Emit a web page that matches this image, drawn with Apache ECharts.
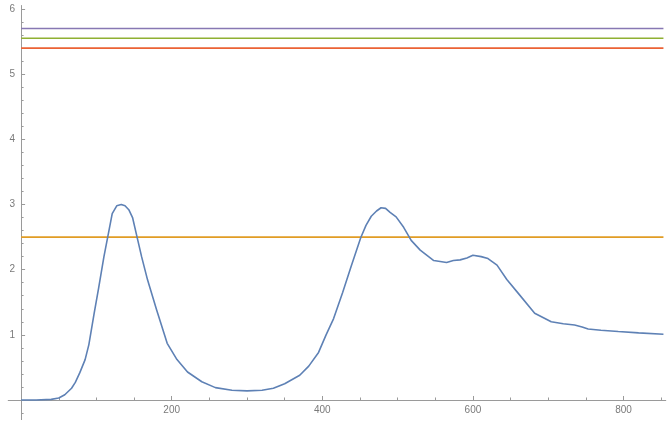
<!DOCTYPE html>
<html>
<head>
<meta charset="utf-8">
<script src="https://cdn.jsdelivr.net/npm/echarts@6/dist/echarts.min.js"></script>
<style>
html,body{margin:0;padding:0;background:#fff;}
#chart{width:668px;height:424px;}
</style>
</head>
<body>
<div id="chart"></div>
<script>
// ---- data ----
var curveX = [0, 20, 40, 50, 58, 67, 72, 78, 85, 90, 97, 103, 110, 115, 121, 127, 133, 138, 143, 148, 154, 160, 168, 180, 194, 207, 221, 240, 258, 280, 300, 320, 335, 350, 370, 382, 395, 405, 415, 427, 438, 451, 458, 465, 472, 478, 484, 490, 498, 508, 518, 530, 548, 565, 574, 583, 592, 600, 611, 620, 632, 645, 660, 682, 704, 720, 735, 745, 753, 770, 793, 820, 853];
var curveY = [0, 0, 0.01, 0.03, 0.08, 0.18, 0.27, 0.42, 0.62, 0.85, 1.33, 1.72, 2.2, 2.5, 2.86, 2.98, 3.0, 2.98, 2.92, 2.8, 2.5, 2.2, 1.84, 1.38, 0.87, 0.62, 0.43, 0.28, 0.19, 0.15, 0.14, 0.15, 0.18, 0.25, 0.38, 0.52, 0.73, 1.0, 1.25, 1.65, 2.04, 2.49, 2.68, 2.82, 2.9, 2.95, 2.94, 2.88, 2.81, 2.65, 2.45, 2.3, 2.14, 2.11, 2.14, 2.15, 2.18, 2.22, 2.2, 2.17, 2.07, 1.85, 1.64, 1.33, 1.2, 1.17, 1.15, 1.12, 1.09, 1.07, 1.05, 1.03, 1.01];
var levelNames = ['orange', 'green', 'red', 'purple'];
var levelValues = [2.5, 5.55, 5.4, 5.7];
var domainX = [0, 853];
var xMajorTicks = [200, 400, 600, 800];
var xMinorTicks = [50, 100, 150, 250, 300, 350, 450, 500, 550, 650, 700, 750, 850];
var yMajorTicks = [1, 2, 3, 4, 5, 6];
var yMinorTicks = [-0.2, 0.2, 0.4, 0.6, 0.8, 1.2, 1.4, 1.6, 1.8, 2.2, 2.4, 2.6, 2.8, 3.2, 3.4, 3.6, 3.8, 4.2, 4.4, 4.6, 4.8, 5.2, 5.4, 5.6, 5.8];

var colors = ['#5E81B5', '#E19C24', '#8FB032', '#EB6235', '#8778B3'];
var axisColor = '#9a9a9a';
var labelColor = '#7a7a7a';
var font = 'Liberation Sans, Arial, sans-serif';

var W = 668, H = 424;
var gridL = 8.3, gridR = 2.3, gridT = 5.74, gridB = 4.45;
var xMin = -17, xMax = 856, yMin = -0.3, yMax = 6.05;
var plotW = W - gridL - gridR, plotH = H - gridT - gridB;
// shift axes so they cross at the origin (data value 0)
var xAxisOffset = -((0 - yMin) / (yMax - yMin)) * plotH;
var yAxisOffset = -((0 - xMin) / (xMax - xMin)) * plotW;

function mkX(custom, len, showLabel) {
  return {
    type: 'value', min: xMin, max: xMax, position: 'bottom', offset: xAxisOffset,
    axisLine: {show: true, onZero: false, lineStyle: {color: axisColor, width: 1}},
    axisTick: {show: true, inside: true, length: len, customValues: custom, lineStyle: {color: axisColor}},
    axisLabel: {show: showLabel, customValues: custom, margin: 5, color: labelColor, fontSize: 10, fontFamily: font},
    splitLine: {show: false}
  };
}
function mkY(custom, len, showLabel) {
  return {
    type: 'value', min: yMin, max: yMax, position: 'left', offset: yAxisOffset,
    axisLine: {show: true, onZero: false, lineStyle: {color: axisColor, width: 1}},
    axisTick: {show: true, inside: true, length: len, customValues: custom, lineStyle: {color: axisColor}},
    axisLabel: {show: showLabel, customValues: custom, margin: 6, color: labelColor, fontSize: 10, fontFamily: font},
    splitLine: {show: false}
  };
}

var series = [{
  name: 'curve', type: 'line', showSymbol: false, smooth: false,
  data: curveX.map(function (x, i) { return [x, curveY[i]]; }),
  lineStyle: {color: colors[0], width: 1.6}, z: 5
}];
levelValues.forEach(function (v, i) {
  series.push({
    name: levelNames[i], type: 'line', showSymbol: false,
    data: [[domainX[0], v], [domainX[1], v]],
    lineStyle: {color: colors[i + 1], width: 1.6}
  });
});

var chart = echarts.init(document.getElementById('chart'), null, {renderer: 'canvas'});
chart.setOption({
  animation: false,
  backgroundColor: '#fff',
  grid: {left: gridL, right: gridR, top: gridT, bottom: gridB, containLabel: false, outerBoundsMode: 'none'},
  xAxis: [mkX(xMajorTicks, 4, true), mkX(xMinorTicks, 2.5, false)],
  yAxis: [mkY(yMajorTicks, 4, true), mkY(yMinorTicks, 2.5, false)],
  series: series
});
</script>
</body>
</html>
